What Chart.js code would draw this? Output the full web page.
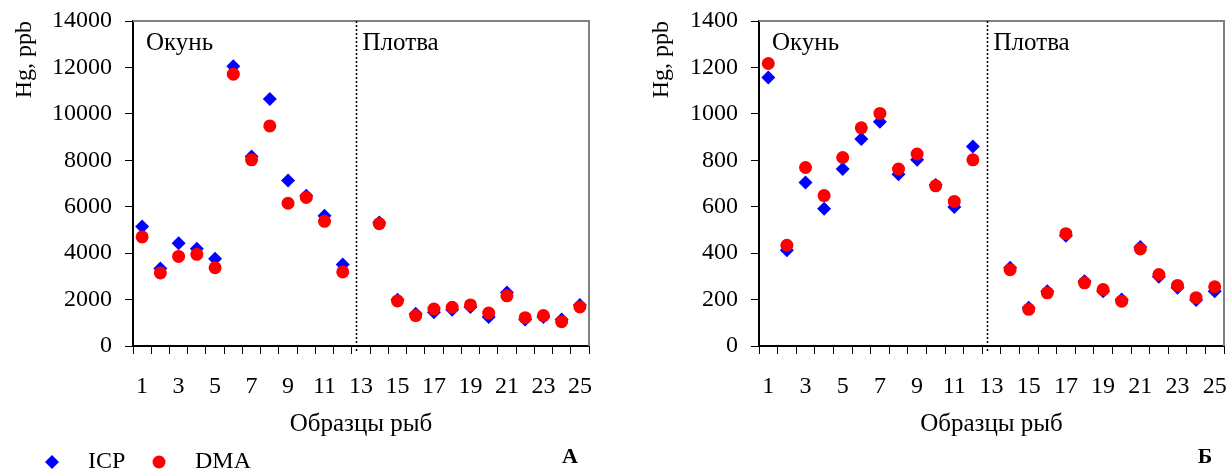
<!DOCTYPE html>
<html>
<head>
<meta charset="utf-8">
<script src="https://cdn.jsdelivr.net/npm/chart.js@4.4.0/dist/chart.umd.min.js"></script>
<style>
  html, body { margin: 0; padding: 0; background: #fff; }
  #wrap { position: relative; width: 1231px; height: 471px; overflow: hidden; }
  #chartA { position: absolute; left: 0; top: 0; }
  #chartB { position: absolute; left: 640px; top: 0; }
</style>
</head>
<body>
<div id="wrap">
  <canvas id="chartA" width="615" height="471"></canvas>
  <canvas id="chartB" width="591" height="471"></canvas>
</div>
<script>
// номера образцов рыб (ось X)
const samples = ['1','2','3','4','5','6','7','8','9','10','11','12','13',
                 '14','15','16','17','18','19','20','21','22','23','24','25'];
const groups = ['Окунь', 'Плотва'];
const seriesNames = ['ICP', 'DMA'];
// граница между группами (индекс категории)
const dividerAt = 11.75;

// панель А, Hg ppb
const icpA = [5150, 3340, 4430, 4190, 3760, 12050, 8160, 10640, 7130, 6470, 5610, 3510, null,
              5320, 1990, 1390, 1450, 1560, 1680, 1250, 2300, 1140, 1250, 1140, 1770];
const dmaA = [4700, 3150, 3860, 3950, 3370, 11710, 8020, 9480, 6150, 6400, 5370, 3190, null,
              5270, 1940, 1310, 1590, 1670, 1770, 1420, 2160, 1220, 1310, 1050, 1680];

// панель Б, Hg ppb
const icpB = [1157, 412, 704, 591, 762, 892, 966, 740, 802, 694, 599, 859, null,
              337, 165, 236, 475, 279, 236, 200, 427, 298, 251, 198, 236];
const dmaB = [1217, 434, 769, 648, 812, 940, 1002, 762, 827, 690, 623, 802, null,
              329, 158, 229, 484, 272, 243, 193, 418, 308, 261, 208, 255];

const FONT = 'Liberation Serif';

//рамка, пунктир, подписи групп, буква панели, легенда
const extras = {
  id: 'extras',
  beforeDatasetsDraw(chart) {
    const { ctx, chartArea: a, scales: { x } } = chart;
    ctx.save();
    ctx.strokeStyle = '#808080';
    ctx.lineWidth = 2;
    ctx.beginPath();
    ctx.moveTo(a.left, a.top);
    ctx.lineTo(a.right, a.top);
    ctx.lineTo(a.right, a.bottom);
    ctx.stroke();

    const dx = Math.round(x.getPixelForValue(dividerAt)) + 0.5;
    ctx.strokeStyle = '#000';
    ctx.lineWidth = 1.5;
    ctx.setLineDash([2, 2]);
    ctx.beginPath();
    ctx.moveTo(dx, a.top);
    ctx.lineTo(dx, a.bottom + 7);
    ctx.stroke();
    ctx.setLineDash([]);

    ctx.fillStyle = '#000';
    ctx.font = '25px "' + FONT + '"';
    ctx.textBaseline = 'alphabetic';
    ctx.textAlign = 'left';
    ctx.fillText(groups[0], a.left + 13, a.top + 29);
    ctx.fillText(groups[1], dx + 6, a.top + 29);
    ctx.restore();
  },
  afterDraw(chart, args, opts) {
    const { ctx, chartArea: a } = chart;
    ctx.save();
    ctx.fillStyle = '#000';
    ctx.font = 'bold 22px "' + FONT + '"';
    ctx.textAlign = 'center';
    ctx.textBaseline = 'middle';
    ctx.fillText(opts.letter, a.right - 19, 457);

    if (opts.legend) {
      const pos = [[52, 88], [159, 195]];
      chart.data.datasets.forEach((ds, i) => {
        ctx.fillStyle = ds.backgroundColor;
        ctx.strokeStyle = ds.borderColor;
        Chart.helpers.drawPoint(ctx, { pointStyle: ds.pointStyle, radius: ds.pointRadius, rotation: 0, borderWidth: 0 }, pos[i][0], 462);
        ctx.fillStyle = '#000';
        ctx.font = '24px "' + FONT + '"';
        ctx.textAlign = 'left';
        ctx.fillText(ds.label, pos[i][1], 462);
      });
    }
    ctx.restore();
  }
};

function makeChart(id, icp, dma, yMax, yStep, yWidth, padRight, titlePad, letter, legend) {
  const config = {
    type: 'line',
    data: {
      labels: samples,
      datasets: [
        {
          label: seriesNames[0],
          data: icp,
          showLine: false,
          pointStyle: 'rectRot',
          pointRadius: 7,
          pointHoverRadius: 7,
          backgroundColor: '#0000FF',
          borderColor: '#0000FF',
          pointBorderWidth: 0,
          order: 2,
        },
        {
          label: seriesNames[1],
          data: dma,
          showLine: false,
          pointStyle: 'circle',
          pointRadius: 6.5,
          pointHoverRadius: 6.5,
          backgroundColor: '#FF0000',
          borderColor: '#FF0000',
          pointBorderWidth: 0,
          order: 1,
        },
      ],
    },
    options: {
      responsive: false,
      animation: false,
      devicePixelRatio: 1,
      layout: { padding: { left: 0, top: 21, right: padRight, bottom: 28 } },
      plugins: {
        legend: { display: false },
        tooltip: { enabled: false },
        extras: { letter, legend },
      },
      scales: {
        x: {
          type: 'category',
          offset: true,
          afterFit: (s) => { s.height = 97; s.paddingLeft = 0; s.paddingRight = 0; },
          grid: { offset: true, drawOnChartArea: false, drawTicks: true, tickLength: 8, color: '#000', lineWidth: 1 },
          border: { color: '#000', width: 2 },
          ticks: {
            autoSkip: false,
            maxRotation: 0,
            padding: 18,
            color: '#000',
            font: { family: FONT, size: 24 },
            callback: (v, i) => (i % 2 === 0 ? samples[i] : ''),
          },
          title: {
            display: true,
            text: 'Образцы рыб',
            color: '#000',
            font: { family: FONT, size: 25 },
            padding: { top: 0, bottom: 4 },
          },
        },
        y: {
          min: 0,
          max: yMax,
          afterFit: (s) => { s.width = yWidth; s.paddingTop = 0; s.paddingBottom = 0; },
          grid: { drawOnChartArea: false, drawTicks: true, tickLength: 8, color: '#000', lineWidth: 1 },
          border: { color: '#000', width: 2 },
          ticks: {
            stepSize: yStep,
            padding: 13,
            color: '#000',
            font: { family: FONT, size: 24 },
            callback: (v) => String(v),
          },
          title: {
            display: true,
            text: 'Hg, ppb',
            align: 'end',
            color: '#000',
            font: { family: FONT, size: 24 },
            padding: { top: titlePad, bottom: 0 },
          },
        },
      },
    },
    plugins: [extras],
  };
  return new Chart(document.getElementById(id), config);
}

makeChart('chartA', icpA, dmaA, 14000, 2000, 133, 26, 10, 'А', true);
makeChart('chartB', icpB, dmaB, 1400, 200, 119, 4, 7, 'Б', false);
</script>
</body>
</html>
